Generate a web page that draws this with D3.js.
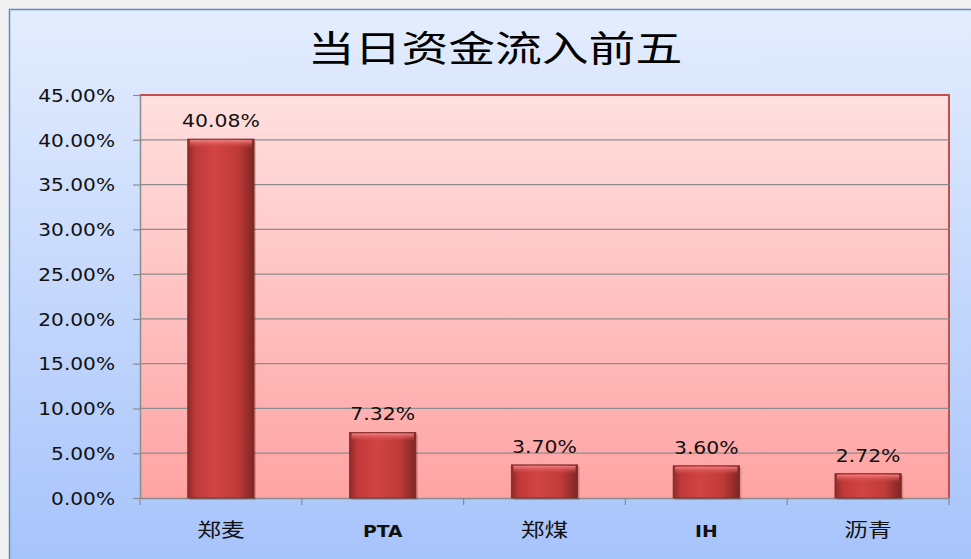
<!DOCTYPE html>
<html><head><meta charset="utf-8">
<script src="https://cdn.jsdelivr.net/npm/d3@7"></script>
<style>body{margin:0;background:#f0f0f0;}svg{display:block;}</style>
</head><body>
<script>
const categories = ["郑麦", "PTA", "郑煤", "IH", "沥青"];
const values = [40.08, 7.32, 3.70, 3.60, 2.72];
const yTicks = [0, 5, 10, 15, 20, 25, 30, 35, 40, 45];
const title = "当日资金流入前五";

const W = 971, H = 559;
const svg = d3.select("body").append("svg").attr("width", W).attr("height", H);
const defs = svg.append("defs");

const bgG = defs.append("linearGradient").attr("id","bg").attr("x1",0).attr("y1",0).attr("x2",0).attr("y2",1);
bgG.append("stop").attr("offset","0%").attr("stop-color","#e4edfd");
bgG.append("stop").attr("offset","100%").attr("stop-color","#a6c3fb");
const pG = defs.append("linearGradient").attr("id","pl").attr("x1",0).attr("y1",0).attr("x2",0).attr("y2",1);
pG.append("stop").attr("offset","0%").attr("stop-color","#ffe0e0");
pG.append("stop").attr("offset","100%").attr("stop-color","#ffa3a3");
const barG = defs.append("linearGradient").attr("id","bar").attr("x1",0).attr("y1",0).attr("x2",1).attr("y2",0);
barG.append("stop").attr("offset","0%").attr("stop-color","#8e2a28");
barG.append("stop").attr("offset","12%").attr("stop-color","#c0393a");
barG.append("stop").attr("offset","40%").attr("stop-color","#d24444");
barG.append("stop").attr("offset","75%").attr("stop-color","#c03b38");
barG.append("stop").attr("offset","100%").attr("stop-color","#7e2624");
const topG = defs.append("linearGradient").attr("id","bartop").attr("x1",0).attr("y1",0).attr("x2",0).attr("y2",1);
topG.append("stop").attr("offset","0%").attr("stop-color","#f08080");
topG.append("stop").attr("offset","100%").attr("stop-color","#d04545").attr("stop-opacity",0);

// outer frame
svg.append("rect").attr("x",9.5).attr("y",9.5).attr("width",W).attr("height",H)
  .attr("fill","url(#bg)").attr("stroke","#5b8bc9").attr("stroke-width",1.5);

const L = 140, R = 949, T = 95, B = 498;
const x = d3.scaleBand().domain(categories).range([L, R]).paddingInner(0.59).paddingOuter(0.295);
const y = d3.scaleLinear().domain([0, 45]).range([B, T]);

svg.append("rect").attr("x",L).attr("y",T).attr("width",R-L).attr("height",B-T).attr("fill","url(#pl)");
svg.append("path").attr("d",`M${L},${T}H${R}V${B}`).attr("fill","none").attr("stroke","#c0504d").attr("stroke-width",2);

// gridlines
svg.append("g").selectAll("line").data(yTicks.filter(d=>d>0 && d<45)).join("line")
  .attr("x1",L).attr("x2",R).attr("y1",d=>y(d)).attr("y2",d=>y(d))
  .attr("stroke","#8c8c8c").attr("stroke-width",1.2);

// y axis
const yAxis = d3.axisLeft(y).tickValues(yTicks).tickSize(7).tickSizeOuter(0).tickFormat(d=>d.toFixed(2)+"%");
const gy = svg.append("g").attr("transform",`translate(${L},0)`).call(yAxis);
gy.select(".domain").attr("stroke","#8c8c8c").attr("stroke-width",1.5);
gy.selectAll(".tick line").attr("stroke","#8c8c8c").attr("stroke-width",1.2);
gy.selectAll(".tick text").attr("x",0).attr("dy","0.36em")
  .attr("transform","translate(-25,0) scale(1.15,1)")
  .attr("font-family","DejaVu Sans, Verdana, sans-serif")
  .attr("font-size",17.5).attr("fill","#111");

// x axis
const xAxis = d3.axisBottom(x).tickSize(0).tickSizeOuter(0);
const gx = svg.append("g").attr("transform",`translate(0,${B})`).call(xAxis);
gx.select(".domain").attr("stroke","#8c8c8c").attr("stroke-width",1.5);
gx.selectAll(".tick text").attr("y",0).attr("dy",0)
  .attr("transform","translate(0,39) scale(1.25,1)")
  .attr("font-family", d=> /[A-Z]/.test(d) ? "DejaVu Sans, sans-serif" : "Noto Sans CJK SC, sans-serif")
  .attr("font-weight", d=> /[A-Z]/.test(d) ? "bold" : "normal")
  .attr("font-size",d=> /[A-Z]/.test(d) ? 15 : 19).attr("fill","#111");
svg.append("g").selectAll("line").data(d3.range(categories.length+1)).join("line")
  .attr("x1",i=>L+i*(R-L)/categories.length).attr("x2",i=>L+i*(R-L)/categories.length)
  .attr("y1",B).attr("y2",B+7).attr("stroke","#8c8c8c").attr("stroke-width",1.2);

// bars
const data = categories.map((c,i)=>({c, v: values[i]}));
const bars = svg.append("g").selectAll("g").data(data).join("g");
bars.append("rect").attr("x",d=>x(d.c)+2).attr("y",d=>y(d.v)+2).attr("width",x.bandwidth()).attr("height",d=>B-y(d.v))
  .attr("fill","#000").attr("opacity",0.15);
bars.append("rect").attr("x",d=>x(d.c)).attr("y",d=>y(d.v)).attr("width",x.bandwidth()).attr("height",d=>B-y(d.v))
  .attr("fill","url(#bar)").attr("stroke","#7a2a28").attr("stroke-width",0.8);
bars.append("rect").attr("x",d=>x(d.c)+2).attr("y",d=>y(d.v)+1).attr("width",x.bandwidth()-4).attr("height",8)
  .attr("fill","url(#bartop)");

// labels
bars.append("text")
  .attr("transform",d=>`translate(${x(d.c)+x.bandwidth()/2},${y(d.v)-12}) scale(1.2,1)`)
  .attr("text-anchor","middle").attr("font-family","DejaVu Sans, Verdana, sans-serif")
  .attr("font-size",17).attr("fill","#111").text(d=>d.v.toFixed(2)+"%");

// title
svg.append("text").attr("transform","translate(495,62) scale(1.3,1)").attr("text-anchor","middle")
  .attr("font-family","Noto Sans CJK SC, sans-serif").attr("font-size",36).attr("fill","#000")
  .text(title);
</script>
</body></html>
